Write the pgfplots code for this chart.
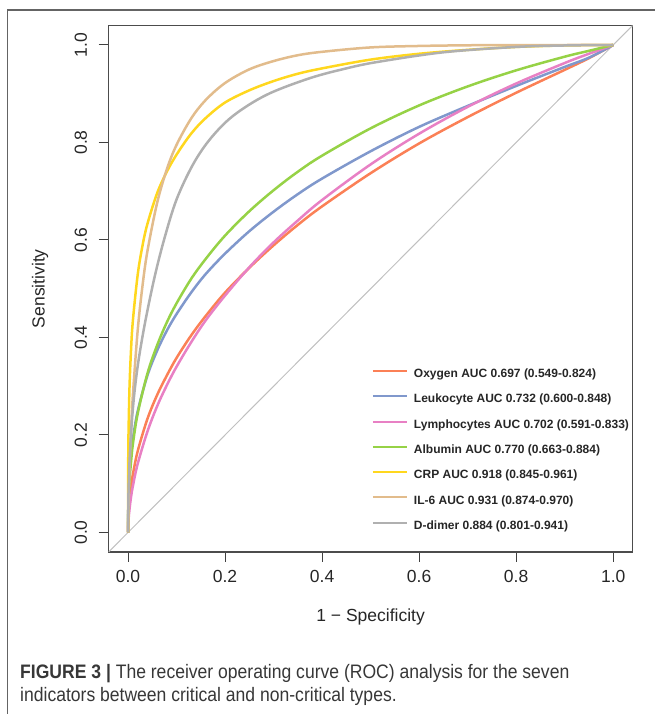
\documentclass[border=0pt]{standalone}
\usepackage{fontspec}
\setmainfont{Liberation Sans}
\newfontfamily\capfont[FakeStretch=0.9]{Liberation Sans}
\usepackage{pgfplots}
\pgfplotsset{compat=1.18}
\definecolor{oxy}{RGB}{251,128,86}
\definecolor{leuk}{RGB}{128,152,204}
\definecolor{lymph}{RGB}{232,128,196}
\definecolor{alb}{RGB}{150,210,70}
\definecolor{crp}{RGB}{255,215,30}
\definecolor{ilsix}{RGB}{226,188,140}
\definecolor{ddim}{RGB}{176,176,176}
\definecolor{diag}{RGB}{192,192,192}
\definecolor{frame}{RGB}{100,100,100}
\definecolor{captxt}{RGB}{55,55,55}
\begin{document}
\begin{tikzpicture}[x=1pt,y=1pt]
\useasboundingbox (0pt,0pt) rectangle (654pt,714pt);
\draw[frame, line width=1.2pt] (7.5pt,0pt) -- (7.5pt,704pt) -- (660pt,704pt);
\begin{axis}[
  at={(108.6pt,162pt)}, anchor=south west,
  scale only axis, width=524pt, height=526.5pt,
  xmin=-0.04, xmax=1.04, ymin=-0.04, ymax=1.04,
  xtick={0,0.2,0.4,0.6,0.8,1}, ytick={0,0.2,0.4,0.6,0.8,1},
  xticklabels={0.0,0.2,0.4,0.6,0.8,1.0},
  yticklabels={0.0,0.2,0.4,0.6,0.8,1.0},
  tick pos=left, tick align=outside, major tick length=10pt,
  tick style={black!75, line width=1pt},
  axis line style={black!70, line width=1.2pt},
  /pgf/number format/assume math mode=true,
  ticklabel style={font=\fontsize{17.5}{20}\selectfont, text=black!85},
  xticklabel style={yshift=-5pt},
  yticklabel style={rotate=90, anchor=south, yshift=8pt},
  xlabel={1 − Specificity}, ylabel={Sensitivity},
  every axis x label/.style={at={(axis description cs:0.5,-0.1235)}, anchor=center,
     font=\fontsize{17.5}{20}\selectfont, text=black!85},
  every axis y label/.style={at={(axis description cs:-0.1309,0.5)}, rotate=90, anchor=center,
     font=\fontsize{17.5}{20}\selectfont, text=black!85},
  legend cell align=left,
  legend style={draw=none, fill=none, at={(axis description cs:0.4965,0.352)}, anchor=north west,
    font=\fontsize{12}{14}\selectfont\bfseries, row sep=15.1pt,
    nodes={inner sep=0pt, text=black!85},
    /tikz/every odd column/.append style={column sep=6pt}},
  legend image code/.code={\draw[#1, line width=2pt] (0pt,3pt) -- (34pt,3pt);},
  every axis plot/.append style={line width=2.5pt, smooth, tension=0.55},
]
\addplot[diag, line width=1pt, sharp plot, forget plot] coordinates {(-0.04,-0.04) (1.04,1.04)};
% Oxygen
\addplot[oxy] coordinates {
(0,0) (0.001,0.038) (0.003,0.066) (0.006,0.093) (0.01,0.119) (0.02,0.167) (0.04,0.233)
(0.06,0.282) (0.08,0.322) (0.10,0.358) (0.13,0.404) (0.16,0.444) (0.20,0.492) (0.25,0.543)
(0.30,0.589) (0.35,0.631) (0.40,0.669) (0.50,0.737) (0.60,0.798) (0.70,0.852) (0.80,0.902)
(0.90,0.949) (0.95,0.973) (1,1)};
% Leukocyte
\addplot[leuk] coordinates {
(0,0) (0.001,0.079) (0.003,0.121) (0.006,0.158) (0.01,0.192) (0.02,0.249) (0.04,0.322)
(0.06,0.373) (0.08,0.414) (0.10,0.448) (0.13,0.492) (0.16,0.530) (0.20,0.572) (0.25,0.618)
(0.30,0.658) (0.35,0.694) (0.40,0.726) (0.50,0.782) (0.60,0.832) (0.70,0.875) (0.80,0.916)
(0.90,0.955) (0.95,0.974) (1,1)};
% Lymphocytes
\addplot[lymph] coordinates {
(0,0) (0.001,0.025) (0.003,0.047) (0.006,0.071) (0.01,0.095) (0.02,0.141) (0.04,0.207)
(0.06,0.259) (0.08,0.302) (0.10,0.340) (0.13,0.390) (0.16,0.435) (0.20,0.486) (0.25,0.544)
(0.30,0.595) (0.35,0.640) (0.40,0.682) (0.50,0.755) (0.60,0.818) (0.70,0.873) (0.80,0.921)
(0.90,0.963) (0.95,0.982) (1,1)};
% Albumin
\addplot[alb] coordinates {
(0,0) (0.001,0.064) (0.003,0.106) (0.006,0.142) (0.01,0.181) (0.02,0.244) (0.04,0.326)
(0.06,0.384) (0.08,0.431) (0.10,0.470) (0.13,0.520) (0.16,0.561) (0.20,0.609) (0.25,0.659)
(0.30,0.702) (0.35,0.740) (0.40,0.773) (0.50,0.829) (0.60,0.876) (0.70,0.915) (0.80,0.948)
(0.90,0.976) (0.95,0.988) (1,1)};
% CRP
\addplot[crp] coordinates {
(0,0) (0.0005,0.155) (0.001,0.201) (0.003,0.295) (0.006,0.370) (0.01,0.434) (0.02,0.529)
(0.03,0.589) (0.04,0.633) (0.06,0.696) (0.08,0.740) (0.10,0.775) (0.13,0.818) (0.16,0.850)
(0.20,0.882) (0.25,0.907) (0.30,0.926) (0.35,0.941) (0.40,0.952) (0.50,0.970) (0.60,0.982)
(0.70,0.990) (0.80,0.996) (0.90,0.999) (1,1)};
% IL-6
\addplot[ilsix] coordinates {
(0,0) (0.001,0.054) (0.003,0.125) (0.006,0.203) (0.01,0.281) (0.02,0.415) (0.03,0.507)
(0.04,0.577) (0.06,0.676) (0.08,0.745) (0.10,0.795) (0.13,0.849) (0.16,0.887) (0.20,0.922)
(0.25,0.950) (0.30,0.967) (0.35,0.979) (0.40,0.986) (0.50,0.995) (0.60,0.998) (0.70,0.9994)
(0.80,0.9999) (1,1)};
% D-dimer
\addplot[ddim] coordinates {
(0,0) (0.001,0.080) (0.003,0.142) (0.007,0.215) (0.013,0.285) (0.022,0.355) (0.036,0.435)
(0.055,0.525) (0.075,0.603) (0.100,0.683) (0.134,0.755) (0.170,0.808) (0.217,0.855)
(0.286,0.898) (0.375,0.932) (0.450,0.952) (0.513,0.965) (0.650,0.985) (0.800,0.996)
(0.900,0.999) (1,1)};
\legend{Oxygen AUC 0.697 (0.549-0.824), Leukocyte AUC 0.732 (0.600-0.848),
Lymphocytes AUC 0.702 (0.591-0.833), Albumin AUC 0.770 (0.663-0.884),
CRP AUC 0.918 (0.845-0.961), IL-6 AUC 0.931 (0.874-0.970), D-dimer 0.884 (0.801-0.941)}
\end{axis}
\node[anchor=base west, inner sep=0pt, text=captxt, font=\capfont\fontsize{19.5}{23}\selectfont] at (20pt,35pt)
  {\textbf{FIGURE 3 |} The receiver operating curve (ROC) analysis for the seven};
\node[anchor=base west, inner sep=0pt, text=captxt, font=\capfont\fontsize{19.5}{23}\selectfont] at (20pt,12pt)
  {indicators between critical and non-critical types.};
\end{tikzpicture}
\end{document}
